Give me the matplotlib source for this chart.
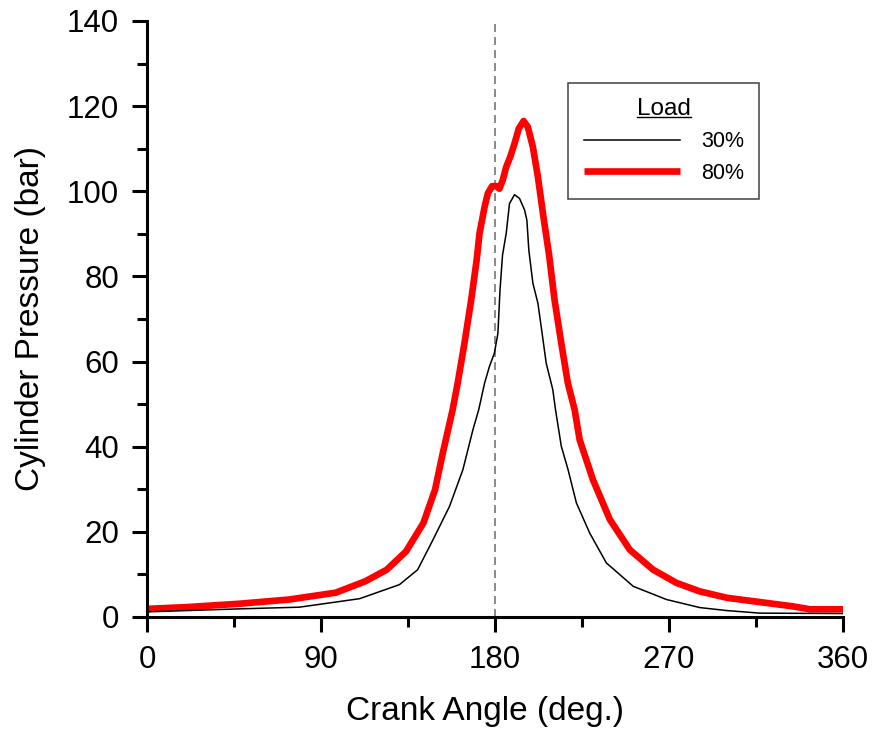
import matplotlib
matplotlib.use("Agg")
import matplotlib.pyplot as plt
from matplotlib.ticker import MultipleLocator
from matplotlib.lines import Line2D

plt.rcParams['font.family'] = ['Liberation Sans', 'DejaVu Sans']

# ---- data ----
angle_80 = [0, 20, 47.6, 73.6, 97.6, 113, 124, 134, 143, 149, 153, 158.1, 160.7, 164.2,
            167.7, 170.5, 172.0, 174.6, 176.3, 178.5, 180.6, 182.3, 184.0, 185.8, 187.9,
            190.1, 192.3, 194.8, 197.0, 199.6, 202.2, 204.8, 208.0, 210.8, 214.3, 217.7,
            221.2, 223.8, 230.7, 239.4, 249.7, 261.8, 273.9, 286, 300, 317, 334, 343, 360]
pressure_80 = [1.9, 2.3, 3.1, 4.1, 5.7, 8.4, 11.1, 15.4, 22.1, 29.9, 38.5, 48.7, 54.9, 64.3,
               74.5, 83.8, 90.1, 96.3, 99.5, 101.2, 101.2, 100.6, 102.6, 105.7, 108.1,
               111.2, 114.7, 116.5, 115.1, 110.4, 103.4, 94.8, 85.0, 74.5, 64.3, 54.9,
               48.7, 41.6, 32.2, 22.9, 15.8, 11.1, 8.0, 6.0, 4.5, 3.5, 2.5, 1.8, 1.8]

angle_30 = [0, 47.6, 78.8, 97.6, 110, 130.6, 140, 148, 156.5, 163.4, 168.6, 171.6, 174.6,
            177.1, 179.7, 181.5, 182.6, 183.9, 185.8, 187.5, 190.1, 192.7, 195.3, 196.5,
            197.5, 199.6, 202.2, 203.9, 206.5, 209.9, 211.3, 214.3, 217.8, 222.1, 229,
            237.6, 251.5, 268.7, 286, 300, 317, 360]
pressure_30 = [1.2, 1.9, 2.3, 3.5, 4.3, 7.6, 11.1, 18.2, 26.0, 34.6, 44.0, 48.7, 54.9,
               58.8, 62.0, 66.6, 76.8, 85.0, 90.1, 97.1, 99.2, 98.3, 95.6, 93.2,
               86.2, 78.4, 73.7, 68.2, 59.6, 53.4, 48.7, 40.1, 34.6, 26.8, 19.7,
               12.7, 7.2, 4.1, 2.2, 1.5, 0.9, 0.8]

tdc_angle = 180
x_ticks = [0, 90, 180, 270, 360]
y_ticks = [0, 20, 40, 60, 80, 100, 120, 140]
labels = ['30%', '80%']
legend_title = 'Load'

fig = plt.figure(figsize=(8.75, 7.31), dpi=100)
ax = fig.add_axes([0.168, 0.156, 0.7954, 0.8153])

ax.axvline(tdc_angle, color='#808080', lw=1.3, ls=(0, (4.4, 2.8)), zorder=1)
ax.plot(angle_30, pressure_30, color='black', lw=1.1, label=labels[0], zorder=3,
        solid_joinstyle='round')
ax.plot(angle_80, pressure_80, color='#ff0000', lw=4.8, label=labels[1], zorder=2,
        solid_joinstyle='round', solid_capstyle='butt')

ax.set_xlim(0, 360)
ax.set_ylim(0, 140)
ax.set_xticks(x_ticks)
ax.set_yticks(y_ticks)
ax.xaxis.set_minor_locator(MultipleLocator(45))
ax.yaxis.set_minor_locator(MultipleLocator(10))

for s in ['top', 'right']:
    ax.spines[s].set_visible(False)
for s in ['left', 'bottom']:
    ax.spines[s].set_linewidth(2.2)

ax.tick_params(axis='both', which='major', direction='out', length=11, width=2.2,
               labelsize=22.5, pad=9)
ax.tick_params(axis='both', which='minor', direction='out', length=7, width=2.2)

ax.set_xlabel('Crank Angle (deg.)', fontsize=24)
ax.xaxis.set_label_coords(0.486, -0.133)
ax.set_ylabel('Cylinder Pressure (bar)', fontsize=24, labelpad=15)

leg = ax.legend(loc='upper left', bbox_to_anchor=(0.605, 0.896), fontsize=15.5,
                title=legend_title, title_fontsize=17.5,
                frameon=True, fancybox=False, edgecolor='#404040',
                handlelength=4.5, handletextpad=0.95, borderpad=0.72, labelspacing=0.5,
                borderaxespad=0)
leg.get_frame().set_linewidth(1.1)
leg.get_frame().set_alpha(1)

# underline the legend title
fig.canvas.draw()
tb = leg.get_title().get_window_extent(fig.canvas.get_renderer())
inv = fig.transFigure.inverted()
(x0, y0), (x1, y1) = inv.transform([(tb.x0, tb.y0 + 3), (tb.x1, tb.y0 + 3)])
fig.add_artist(Line2D([x0, x1], [y0, y1], transform=fig.transFigure, color='black', lw=1.0))

fig.savefig('out.png', dpi=100)
